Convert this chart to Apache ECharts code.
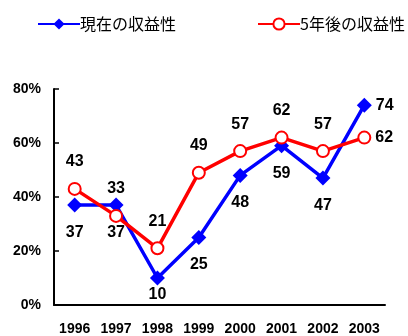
<!DOCTYPE html>
<html>
<head>
<meta charset="utf-8">
<style>
  html, body { margin: 0; padding: 0; background: #fff; }
  #chart { width: 408px; height: 336px; }
</style>
<script src="https://cdn.jsdelivr.net/npm/echarts@6/dist/echarts.min.js"></script>
</head>
<body>
<div id="chart"></div>
<script>
// Survey: share answering "profitable", now vs. five years ahead (%)
const years = ['1996', '1997', '1998', '1999', '2000', '2001', '2002', '2003'];
const currentProfit = [37, 37, 10, 25, 48, 59, 47, 74];
const futureProfit = [43, 33, 21, 49, 57, 62, 57, 62];
const yTicks = [0, 20, 40, 60, 80];

const numFont = '"Liberation Sans", Arial, sans-serif';
const cjkFont = '"Noto Sans CJK JP", "Noto Sans", sans-serif';

// Last point labelled to the right; values near the floor get a tighter label gap
function withLabels(values, normalPos, dist) {
  return values.map((v, i) => ({
    value: v,
    label: i === values.length - 1
      ? { position: 'right', distance: 4 }
      : { position: normalPos, distance: (normalPos === 'bottom' && v < 15) ? 1 : dist }
  }));
}

const legendBase = {
  top: 11,
  itemWidth: 42,
  itemHeight: 14,
  itemGap: 0,
  textStyle: { fontFamily: cjkFont, fontSize: 16, color: '#000', padding: [0, 0, 0, -5] }
};

const chart = echarts.init(document.getElementById('chart'), null, { renderer: 'canvas' });
chart.setOption({
  animation: false,
  backgroundColor: '#ffffff',
  legend: [
    Object.assign({}, legendBase, { left: 32, data: ['現在の収益性'] }),
    Object.assign({}, legendBase, { left: 252, data: ['5年後の収益性'] })
  ],
  grid: { left: 54, right: 23, top: 89, bottom: 31, containLabel: false },
  xAxis: {
    type: 'category',
    data: years,
    boundaryGap: true,
    axisLine: { lineStyle: { color: '#000', width: 2 } },
    axisTick: { inside: true, length: 5, lineStyle: { color: '#000', width: 1.5 } },
    axisLabel: { fontFamily: numFont, fontWeight: 'bold', fontSize: 14, color: '#000', margin: 17 }
  },
  yAxis: {
    type: 'value',
    min: yTicks[0],
    max: yTicks[yTicks.length - 1],
    interval: 20,
    splitLine: { show: false },
    axisLine: { show: true, lineStyle: { color: '#000', width: 2 } },
    axisTick: { show: true, inside: true, length: 5, lineStyle: { color: '#000', width: 1.5 } },
    axisLabel: {
      fontFamily: numFont, fontWeight: 'bold', fontSize: 14, color: '#000', margin: 13,
      formatter: v => v + '%'
    }
  },
  series: [
    {
      name: '現在の収益性',
      type: 'line',
      data: withLabels(currentProfit, 'bottom', 12),
      symbol: 'diamond',
      symbolSize: 15,
      z: 2,
      lineStyle: { color: '#0000ff', width: 3.5 },
      itemStyle: { color: '#0000ff', borderWidth: 0 },
      label: { show: true, fontFamily: numFont, fontWeight: 'bold', fontSize: 16, color: '#000' }
    },
    {
      name: '5年後の収益性',
      type: 'line',
      data: withLabels(futureProfit, 'top', 12),
      symbol: 'circle',
      symbolSize: 12,
      z: 3,
      lineStyle: { color: '#ff0000', width: 3.5 },
      itemStyle: { color: '#ffffff', borderColor: '#ff0000', borderWidth: 2 },
      label: { show: true, fontFamily: numFont, fontWeight: 'bold', fontSize: 16, color: '#000' }
    }
  ]
});
</script>
</body>
</html>
